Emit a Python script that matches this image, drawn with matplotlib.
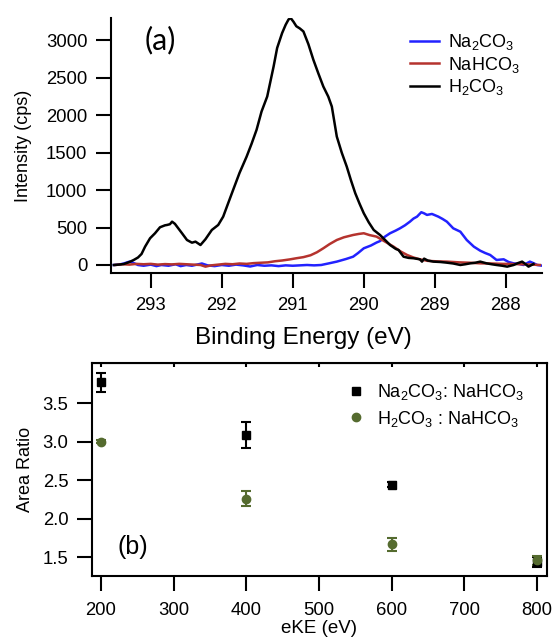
import matplotlib
matplotlib.use("Agg")
import matplotlib.pyplot as plt
from matplotlib.ticker import FormatStrFormatter

plt.rcParams["font.family"] = ["Liberation Sans", "DejaVu Sans"]
plt.rcParams["mathtext.default"] = "regular"
plt.rcParams["xtick.labelsize"] = 13.3
plt.rcParams["ytick.labelsize"] = 13.3

# --- (a) spectra, binding energy (eV) vs intensity (cps) ---
be_h2co3 = [293.52, 293.45, 293.38, 293.30, 293.24, 293.18, 293.13, 293.08, 293.01, 292.94,
            292.87, 292.80, 292.77, 292.73, 292.70, 292.66, 292.63, 292.56, 292.49, 292.42,
            292.37, 292.30, 292.23, 292.14, 292.05, 291.98, 291.91, 291.84, 291.75, 291.65,
            291.58, 291.51, 291.44, 291.36, 291.27, 291.22, 291.15, 291.10, 291.06, 291.03,
            290.99, 290.95, 290.90, 290.85, 290.78, 290.71, 290.64, 290.57, 290.50, 290.45,
            290.38, 290.31, 290.24, 290.18, 290.12, 290.06, 290.00, 289.93, 289.86, 289.77,
            289.70, 289.63, 289.55, 289.51, 289.44, 289.37, 289.30, 289.21, 289.18, 289.15,
            289.10, 289.02, 288.92, 288.83, 288.74, 288.64, 288.57, 288.50, 288.43, 288.36,
            288.27, 288.20, 288.13, 288.05, 287.98, 287.89, 287.83, 287.77, 287.72, 287.68,
            287.61]
i_h2co3 = [0, 5, 13, 40, 67, 100, 147, 245, 357, 424,
           504, 530, 535, 545, 579, 550, 512, 424, 334, 298,
           312, 267, 344, 468, 535, 646, 825, 1003, 1230, 1448,
           1620, 1806, 2050, 2251, 2652, 2900, 3099, 3210, 3280, 3300,
           3250, 3190, 3160, 3120, 2950, 2742, 2560, 2385, 2250, 2117,
           1716, 1500, 1315, 1130, 959, 820, 691, 570, 468, 400,
           334, 267, 215, 200, 111, 95, 90, 76, 45, 85,
           60, 45, 40, 31, 20, 0, 10, 22, 30, 45,
           22, 10, 0, -10, -22, 0, 25, 45, 10, -22,
           13]

be_nahco3 = [293.50, 293.40, 293.30, 293.20, 293.10, 293.00, 292.90, 292.80, 292.70, 292.60,
             292.50, 292.40, 292.30, 292.23, 292.15, 292.05, 291.95, 291.85, 291.75, 291.65,
             291.55, 291.45, 291.35, 291.25, 291.15, 291.04, 290.95, 290.85, 290.75, 290.66,
             290.57, 290.48, 290.38, 290.28, 290.15, 290.07, 290.00, 289.92, 289.82, 289.70,
             289.58, 289.48, 289.39, 289.30, 289.21, 289.10, 288.95, 288.83, 288.65, 288.50,
             288.36, 288.20, 288.05, 287.89, 287.70, 287.52]
i_nahco3 = [0, 10, 5, 15, 10, 15, 5, 12, 8, 15,
            10, 5, 0, -22, -5, 5, 15, 10, 20, 15,
            25, 30, 35, 50, 60, 75, 90, 105, 130, 170,
            223, 280, 334, 370, 401, 415, 424, 400, 379, 312,
            245, 180, 134, 100, 76, 55, 48, 45, 35, 30,
            22, 20, 15, 13, 8, 0]

be_na2co3 = [293.52, 293.45, 293.38, 293.30, 293.25, 293.18, 293.10, 293.00, 292.92, 292.85,
             292.75, 292.65, 292.58, 292.50, 292.42, 292.35, 292.28, 292.20, 292.10, 292.00,
             291.90, 291.80, 291.70, 291.60, 291.50, 291.40, 291.30, 291.20, 291.10, 291.00,
             290.90, 290.80, 290.70, 290.60, 290.50, 290.38, 290.25, 290.15, 290.08, 290.00,
             289.90, 289.82, 289.77, 289.70, 289.63, 289.55, 289.49, 289.42, 289.35, 289.30,
             289.25, 289.19, 289.15, 289.11, 289.04, 288.95, 288.89, 288.83, 288.74, 288.64,
             288.55, 288.45, 288.36, 288.29, 288.22, 288.13, 288.03, 287.96, 287.89, 287.82,
             287.75, 287.66, 287.60, 287.56, 287.49]
i_na2co3 = [0, 5, 20, 45, 30, 0, -10, 5, -15, 0,
            -10, 10, -15, 0, -10, 5, 20, -5, -15, 0,
            -10, 5, -5, -20, 0, -10, -5, -15, -5, -10,
            -5, 0, -5, 0, 20, 45, 80, 111, 160, 223,
            260, 300, 320, 380, 424, 460, 490, 530, 579, 620,
            646, 705, 690, 669, 682, 646, 615, 579, 490, 445,
            334, 245, 191, 160, 134, 67, 76, 40, 22, 15,
            0, 45, 20, 0, -9]

be_ticks = [293, 292, 291, 290, 289, 288]
cps_ticks = [0, 500, 1000, 1500, 2000, 2500, 3000]

# --- (b) area ratios vs eKE ---
eke = [200, 400, 600, 800]
ratio_na2co3 = [3.77, 3.09, 2.44, 1.44]
err_na2co3 = [0.125, 0.17, 0.03, 0.065]
ratio_h2co3 = [3.00, 2.26, 1.67, 1.46]
err_h2co3 = [0.02, 0.095, 0.085, 0.06]
eke_ticks = [200, 300, 400, 500, 600, 700, 800]
ratio_ticks = [1.5, 2.0, 2.5, 3.0, 3.5]

BLUE = "#2222ff"
RED = "#b5332e"
BLACK = "#000000"
GREEN = "#556b2f"

W, H = 554, 638
fig = plt.figure(figsize=(W / 100, H / 100), dpi=100)


def frac(left, top, right, bottom):
    """pixel box (from top-left) -> figure fraction rect"""
    return [left / W, 1 - bottom / H, (right - left) / W, (bottom - top) / H]


# ---------------- panel (a) ----------------
ax1 = fig.add_axes(frac(111, 18, 542, 273))
ax1.plot(be_na2co3, i_na2co3, color=BLUE, lw=1.8, label="Na$_2$CO$_3$")
ax1.plot(be_nahco3, i_nahco3, color=RED, lw=1.8, label="NaHCO$_3$")
ax1.plot(be_h2co3, i_h2co3, color=BLACK, lw=1.8, label="H$_2$CO$_3$")
ax1.set_xlim(293.56, 287.49)
ax1.set_ylim(-107, 3300)
ax1.set_xticks(be_ticks)
ax1.set_yticks(cps_ticks)
for s in ("top", "right"):
    ax1.spines[s].set_visible(False)
for s in ("left", "bottom"):
    ax1.spines[s].set_linewidth(1.5)
ax1.tick_params(direction="out", length=11, width=1.5, labelsize=13.3, pad=6)
ax1.set_xlabel("Binding Energy (eV)", fontsize=17.5)
ax1.xaxis.set_label_coords(0.446, -0.255)
ax1.xaxis.label.set_verticalalignment("center")
ax1.set_ylabel("Intensity (cps)", fontsize=13)
ax1.yaxis.set_label_coords(-0.204, 0.5)
ax1.yaxis.label.set_verticalalignment("center")
fig.text(160 / W, 1 - 40 / H, "(a)", fontsize=22, family=["Lato", "DejaVu Sans"],
         ha="center", va="center")
ax1.legend(loc="upper left", bbox_to_anchor=(0.694, 0.945), frameon=False,
           fontsize=13, handlelength=1.6, handletextpad=0.5,
           labelspacing=0.15, borderpad=0, borderaxespad=0)

# ---------------- panel (b) ----------------
ax2 = fig.add_axes(frac(92, 363, 547, 576))
eb1 = ax2.errorbar(eke, ratio_na2co3, yerr=err_na2co3, fmt="s", color=BLACK, ms=6,
                   elinewidth=1.5, capsize=3.4, capthick=1.5)
eb2 = ax2.errorbar(eke, ratio_h2co3, yerr=err_h2co3, fmt="o", color=GREEN, ms=6,
                   elinewidth=1.5, capsize=3.4, capthick=1.5)
ax2.set_xlim(187.6, 813.7)
ax2.set_ylim(1.257, 4.02)
ax2.set_xticks(eke_ticks)
ax2.set_yticks(ratio_ticks)
ax2.yaxis.set_major_formatter(FormatStrFormatter("%.1f"))
for s in ax2.spines.values():
    s.set_linewidth(1.5)
ax2.tick_params(direction="out", length=11, width=1.5, labelsize=13.3, pad=6)
ax2.tick_params(axis="x", pad=8)
top = ax2.secondary_xaxis("top")
top.set_xticks(eke_ticks)
top.tick_params(direction="in", length=3, width=1.5, labeltop=False)
ax2.set_xlabel("eKE (eV)", fontsize=13.5)
ax2.xaxis.set_label_coords(0.499, -0.245)
ax2.xaxis.label.set_verticalalignment("center")
ax2.set_ylabel("Area Ratio", fontsize=13)
ax2.yaxis.set_label_coords(-0.146, 0.5)
ax2.yaxis.label.set_verticalalignment("center")
fig.text(132.5 / W, 1 - 546.7 / H, "(b)", fontsize=18, ha="center", va="center")
ax2.legend(handles=[eb1[0], eb2[0]],
           labels=["Na$_2$CO$_3$: NaHCO$_3$", "H$_2$CO$_3$ : NaHCO$_3$"],
           loc="upper left", bbox_to_anchor=(0.56, 0.909), frameon=False, fontsize=13,
           handlelength=1.0, handletextpad=0.7, labelspacing=0.35, borderpad=0,
           borderaxespad=0, numpoints=1)

fig.savefig("out.png", dpi=100)
